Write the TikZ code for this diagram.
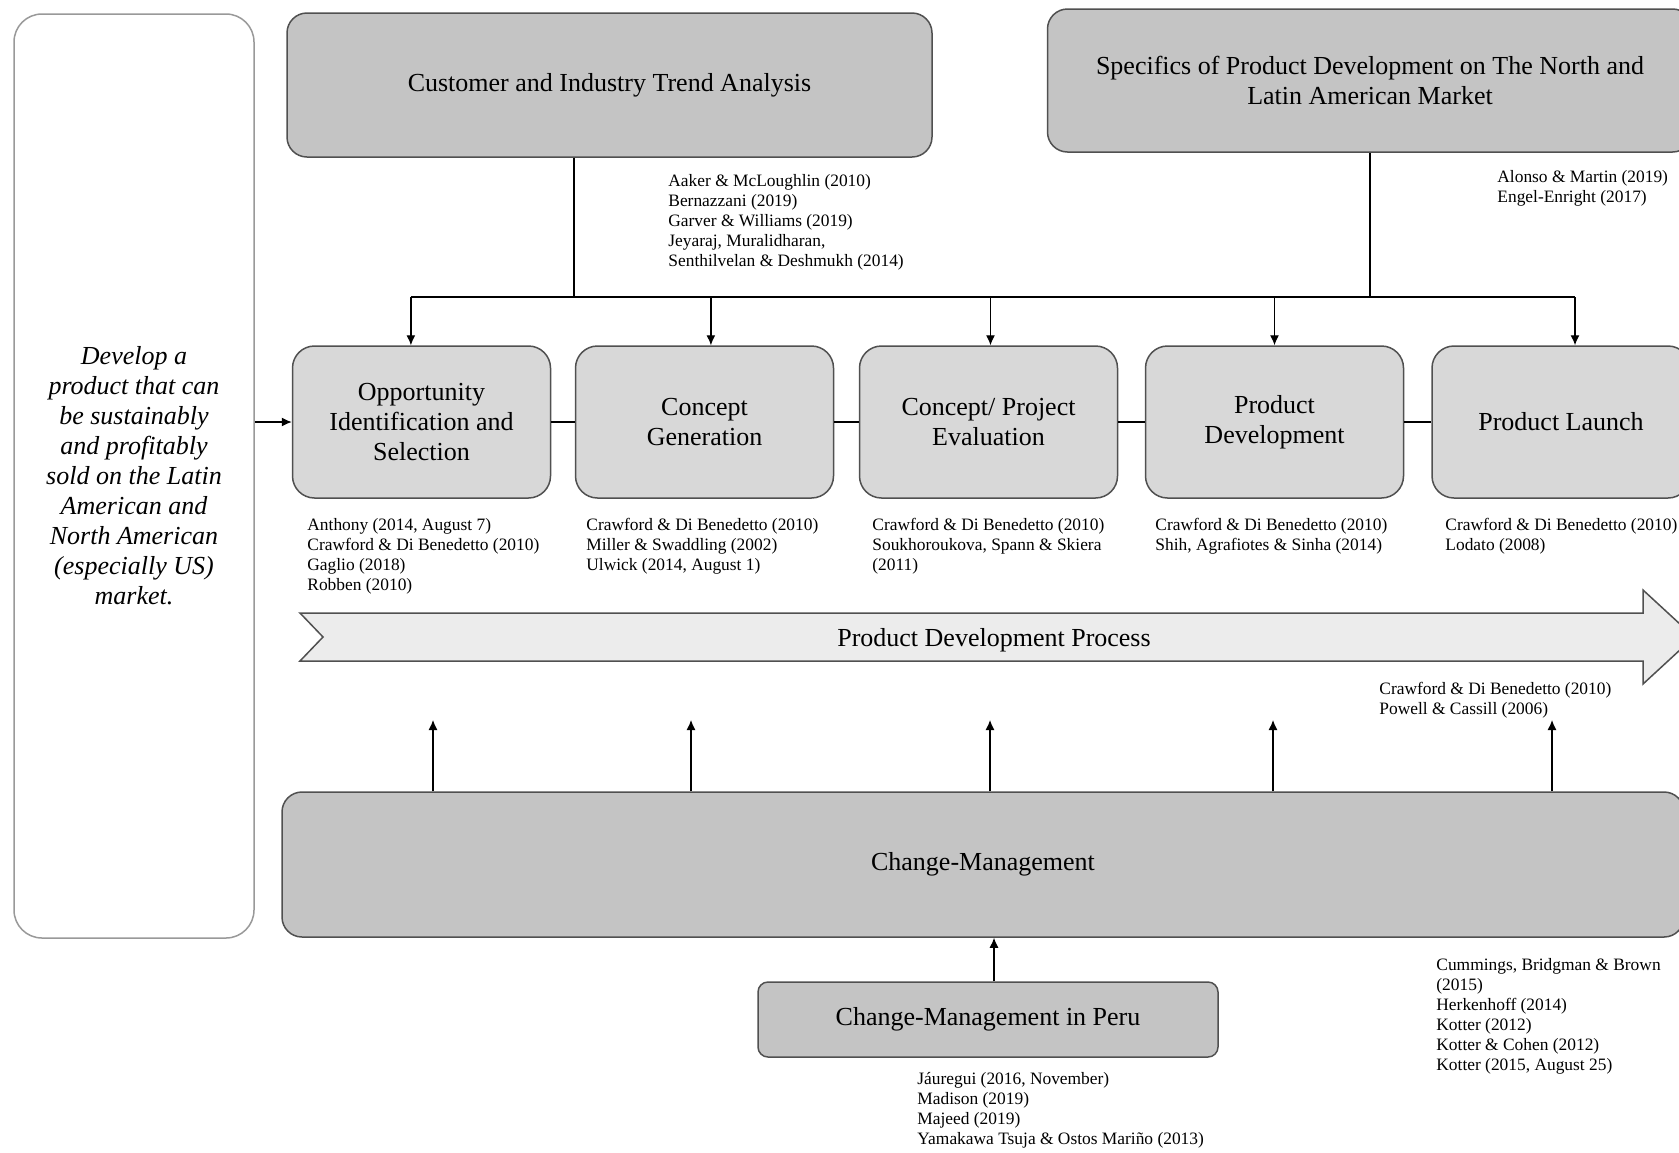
\documentclass[tikz,border=0pt]{standalone}
\usepackage{fontspec}
\setmainfont{Liberation Serif}
\usetikzlibrary{arrows.meta,positioning,calc}
\definecolor{boxdark}{RGB}{196,196,196}
\definecolor{boxlight}{RGB}{216,216,216}
\definecolor{bandgray}{RGB}{236,236,236}
\definecolor{edgegray}{RGB}{80,80,80}
\newcommand{\bigfont}{\fontsize{13}{15}\selectfont}
\newcommand{\reffont}{\fontsize{8.7}{10}\selectfont}

\begin{document}
\begin{tikzpicture}[x=0.5pt,y=-0.5pt,
  topbox/.style={draw=edgegray,line width=0.75pt,fill=boxdark,rounded corners=10pt,
    minimum width=322.5pt,minimum height=72pt,align=center,font=\bigfont},
  stagebox/.style={draw=edgegray,line width=0.75pt,fill=boxlight,rounded corners=11pt,
    minimum width=129pt,minimum height=76pt,align=center,font=\bigfont},
  refs/.style={anchor=north west,align=left,font=\reffont,inner sep=0pt},
  link/.style={draw=black,line width=0.6pt},
  arr/.style={link,-{Latex[length=5pt,width=4.5pt]}}]

  \path[use as bounding box,fill=white] (0,0) rectangle (1679,1152);

  %,  Goal (left column), 
  \node[draw=gray!80,line width=0.75pt,fill=white,rounded corners=14pt,
    minimum width=120pt,minimum height=462pt,align=center,font=\bigfont\itshape]
    (goal) at (134,476)
    {Develop a\\product that can\\be sustainably\\and profitably\\sold on the Latin\\American and\\North American\\(especially US)\\market.};

  %,  Top boxes, 
  \node[topbox] (trend) at (609.5,85) {Customer and Industry Trend Analysis};
  \node[topbox,minimum height=71.5pt] (spec) at (1370,80.5)
    {Specifics of Product Development on The North and\\Latin American Market};
  \node[refs] (trendrefs) at (668,174)
    {Aaker \& McLoughlin (2010)\\Bernazzani (2019)\\Garver \& Williams (2019)\\Jeyaraj, Muralidharan,\\Senthilvelan \& Deshmukh (2014)};
  \node[refs] (specrefs) at (1497,170) {Alonso \& Martin (2019)\\Engel-Enright (2017)};

  %,  Stage boxes, 
  \foreach \nm/\x/\txt in {
    opp/421.5/{Opportunity\\Identification and\\Selection},
    gen/704.5/{Concept\\Generation},
    eval/988.5/{Concept/ Project\\Evaluation},
    dev/1274.5/{Product\\Development},
    launch/1561/{Product Launch}%
  }
    \node[stagebox] (\nm) at (\x,422) {\txt};

  \foreach \nm/\x/\txt in {
    opp/307/{Anthony (2014, August 7)\\Crawford \& Di Benedetto (2010)\\Gaglio (2018)\\Robben (2010)},
    gen/586/{Crawford \& Di Benedetto (2010)\\Miller \& Swaddling (2002)\\Ulwick (2014, August 1)},
    eval/872/{Crawford \& Di Benedetto (2010)\\Soukhoroukova, Spann \& Skiera\\(2011)},
    dev/1155/{Crawford \& Di Benedetto (2010)\\Shih, Agrafiotes \& Sinha (2014)},
    launch/1445/{Crawford \& Di Benedetto (2010)\\Lodato (2008)}%
  }
    \node[refs] (\nm refs) at (\x,518) {\txt};

  \draw[arr] (goal.east |- opp.west) -- (opp.west);
  \foreach \a/\b in {opp/gen,gen/eval,eval/dev,dev/launch}
    \draw[link] (\a.east) -- (\b.west);

  %,  Bus from the top boxes, 
  \coordinate (bus) at (0,297);
  \draw[link] ([xshift=-17.75pt]trend.south) -- ([xshift=-17.75pt]trend.south |- bus);
  \draw[link] (spec.south) -- (spec.south |- bus);
  \draw[link] ([xshift=-5.3pt]bus -| opp.north) -- ([xshift=7pt]bus -| launch.north);
  \foreach \nm/\dx in {opp/-5.3,gen/3.2,eval/1,dev/0,launch/7}
    \draw[arr] ([xshift=\dx pt]bus -| \nm.north) -- ([xshift=\dx pt]\nm.north);

  %,  Process band, 
  \filldraw[draw=edgegray,line width=0.75pt,fill=bandgray]
    (300,613) -- (1643,613) -- (1643,590) -- (1694,637) -- (1643,684)
    -- (1643,661) -- (300,661) -- (323,637) -- cycle;
  \node[font=\bigfont] (process) at (994,640) {Product Development Process};
  \node[refs] (processrefs) at (1379,682)
    {Crawford \& Di Benedetto (2010)\\Powell \& Cassill (2006)};

  %,  Change-Management, 
  \node[topbox,rounded corners=10pt,minimum width=701pt,minimum height=72.5pt]
    (cm) at (983,864.5) {Change-Management};
  \foreach \x [count=\i] in {433,691,990,1273,1552} {
    \coordinate (up\i) at (\x,720);
    \draw[arr] (cm.north -| up\i) -- (up\i);
  }
  \node[refs] (cmrefs) at (1436,958)
    {Cummings, Bridgman \& Brown\\(2015)\\Herkenhoff (2014)\\Kotter (2012)\\Kotter \& Cohen (2012)\\Kotter (2015, August 25)};

  \node[topbox,rounded corners=5pt,minimum width=230pt,minimum height=37.5pt]
    (peru) at (988,1019.5) {Change-Management in Peru};
  \draw[arr] ([xshift=3pt]peru.north) -- ([xshift=3pt]peru.north |- cm.south);
  \node[refs] (perurefs) at (917,1072)
    {Jáuregui (2016, November)\\Madison (2019)\\Majeed (2019)\\Yamakawa Tsuja \& Ostos Mariño (2013)};

\end{tikzpicture}
\end{document}
